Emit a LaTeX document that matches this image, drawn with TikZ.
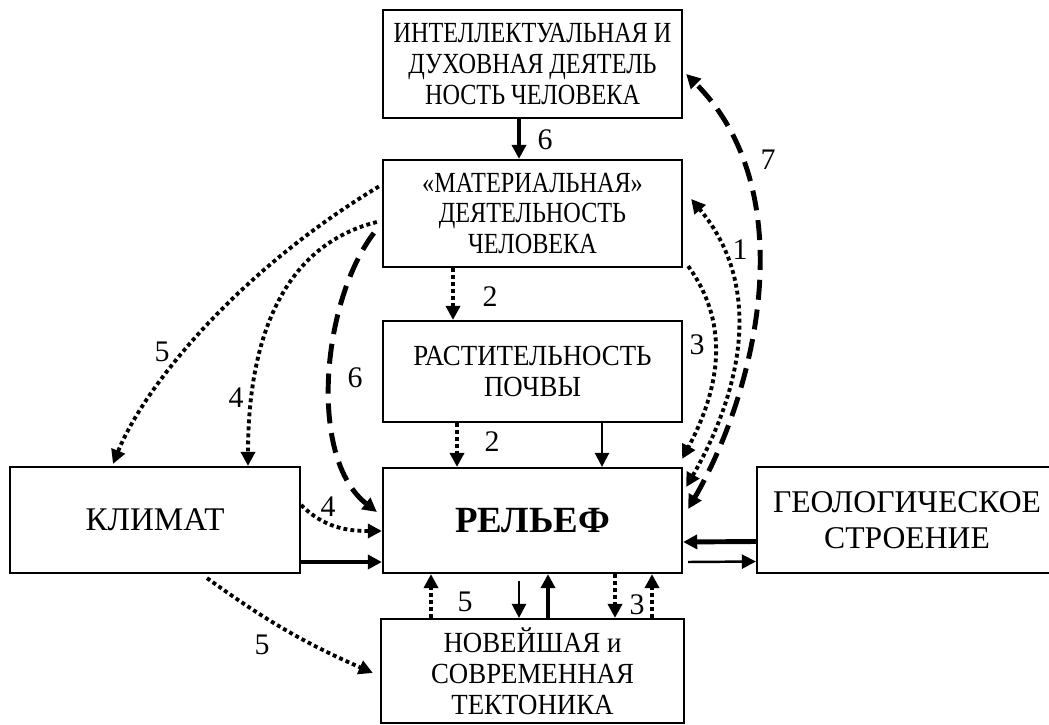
\documentclass[tikz,border=0pt]{standalone}
\usepackage{fontspec}
\setmainfont{Liberation Serif}
\newfontfamily\narrowA{Liberation Serif}[FakeStretch=0.83]
\newfontfamily\narrowB{Liberation Serif}[FakeStretch=0.92]
\usetikzlibrary{arrows.meta,calc}

\begin{document}
\begin{tikzpicture}[x=0.01cm, y=0.01cm,
    box/.style={draw, line width=0.6pt, inner sep=0pt, align=center, minimum width=2.99cm, font=\fontsize{8.3}{8.7}\selectfont},
    onehead/.style={-{Triangle[length=4pt,width=4pt]}},
    twohead/.style={{Triangle[length=4pt,width=4pt]}-{Triangle[length=4pt,width=4pt]}},
    dotline/.style={line width=1.1pt, dash pattern=on 1.1pt off 0.9pt},
    dashline/.style={line width=1.4pt, dash pattern=on 5.7pt off 2.8pt},
    boldline/.style={line width=1.4pt},
    thinline/.style={line width=0.7pt},
    num/.style={font=\fontsize{8.5}{9}\selectfont, inner sep=0pt}]
    \useasboundingbox (0,0) rectangle (1049,724);
    \clip (0,0) rectangle (1049,724);

    % boxes
    \node[box, minimum height=1.08cm, font=\fontsize{8.3}{8.7}\narrowA] (intel) at (532.5,660) {ИНТЕЛЛЕКТУАЛЬНАЯ И\\ДУХОВНАЯ ДЕЯТЕЛЬ\\НОСТЬ ЧЕЛОВЕКА};
    \node[box, minimum height=1.07cm, font=\fontsize{8.3}{8.7}\narrowA] (mat) at (532.5,510.5) {«МАТЕРИАЛЬНАЯ»\\ДЕЯТЕЛЬНОСТЬ\\ЧЕЛОВЕКА};
    \node[box, minimum height=1.01cm, font=\fontsize{8.3}{8.7}\narrowB] (veg) at (532.5,352.5) {РАСТИТЕЛЬНОСТЬ\\ПОЧВЫ};
    \node[box, minimum height=1.05cm, font=\fontsize{10.5}{12}\selectfont\bfseries] (relief) at (532.5,203.5) {РЕЛЬЕФ};
    \node[box, minimum width=2.9cm, minimum height=1.06cm, font=\fontsize{9.4}{10}\selectfont] (climate) at (155,204) {КЛИМАТ};
    \node[box, minimum width=3cm, minimum height=1.06cm, font=\fontsize{9}{10.4}\selectfont] (geo) at (907,204) {ГЕОЛОГИЧЕСКОЕ\\СТРОЕНИЕ};
    \node[box, minimum width=3.03cm, minimum height=1.04cm, font=\fontsize{8.3}{8.8}\narrowB] (tecton) at (532.5,53) {НОВЕЙШАЯ и\\СОВРЕМЕННАЯ\\ТЕКТОНИКА};

    % centre column
    \draw[boldline, onehead] ($(intel.south)+(-13.5,0)$) -- ($(mat.north)+(-13.5,0)$);
    \node[num] (n6a) at (545,584) {6};
    \draw[dotline, onehead] ($(mat.south)+(-79.5,0)$) -- ($(veg.north)+(-79.5,0)$);
    \node[num] (n2a) at (490,427) {2};
    \draw[dotline, onehead] ($(veg.south)+(-75.5,0)$) -- ($(relief.north)+(-75.5,0)$);
    \node[num] (n2b) at (492,282) {2};
    \draw[thinline, onehead] ($(veg.south)+(69.5,0)$) -- ($(relief.north)+(69.5,0)$);

    % climate
    \draw[boldline, onehead] ($(climate.east)+(0,-42)$) -- ($(relief.west)+(0,-41.5)$);
    \draw[dotline, onehead] ($(climate.east)+(0,15)$) to[out=-45, in=180] ($(relief.west)+(0,-10.5)$);
    \node[num] (n4a) at (328,217) {4};
    \draw[dotline, onehead] ($(climate.south)+(52,-4)$) to[bend right=6] ($(tecton.west)+(-7,-2)$);
    \node[num] (n5a) at (262,79) {5};

    % geology
    \draw[boldline, onehead] ($(geo.west)+(0,-21.5)$) -- ($(relief.east)+(0,-21.5)$);
    \draw[thinline, onehead] ($(relief.east)+(5,-41.5)$) -- ($(geo.west)+(0,-41.5)$);

    % tectonics
    \draw[dotline, onehead] ($(tecton.north)+(-101.5,0)$) -- ($(relief.south)+(-101.5,0)$);
    \node[num] (n5b) at (465,122) {5};
    \draw[thinline, onehead] ($(relief.south)+(-13.5,-7)$) -- ($(tecton.north)+(-13.5,0)$);
    \draw[boldline, onehead] ($(tecton.north)+(15.5,0)$) -- ($(relief.south)+(15.5,0)$);
    \draw[dotline, onehead] ($(relief.south)+(82.5,0)$) -- ($(tecton.north)+(82.5,0)$);
    \node[num] (n3a) at (637,119) {3};
    \draw[dotline, onehead] ($(tecton.north)+(119.5,0)$) -- ($(relief.south)+(119.5,0)$);

    % left curves
    \draw[dotline, onehead] ($(mat.west)+(-3,27)$) .. controls +(211:166) and +(68:83) .. ($(climate.north)+(-42,2)$);
    \node[num] (n5c) at (162,372) {5};
    \draw[dotline, onehead] ($(mat.west)+(-5,-8.5)$) to[out=194, in=90] ($(climate.north)+(93,0)$);
    \node[num] (n4b) at (236,326) {4};
    \draw[dashline, onehead] ($(mat.west)+(-8,-19.5)$) to[out=233, in=142, looseness=0.8] ($(relief.west)+(-5,8.5)$);
    \node[num] (n6b) at (355,346) {6};

    % right curves
    \draw[dotline, onehead] ($(mat.south east)+(5,2)$) to[out=-54, in=62] ($(relief.north east)+(-1,8)$);
    \node[num] (n3b) at (697,379) {3};
    \draw[dotline, twohead] ($(relief.east)+(3,33.5)$) .. controls +(60:102) and +(-50:119) .. ($(mat.east)+(8,14.5)$);
    \node[num] (n1) at (740,474) {1};
    \draw[dashline, twohead] ($(relief.east)+(5,11.5)$) .. controls +(60:140) and +(-45:165) .. ($(intel.east)+(3,-10)$);
    \node[num] (n7) at (768,564) {7};
\end{tikzpicture}
\end{document}
